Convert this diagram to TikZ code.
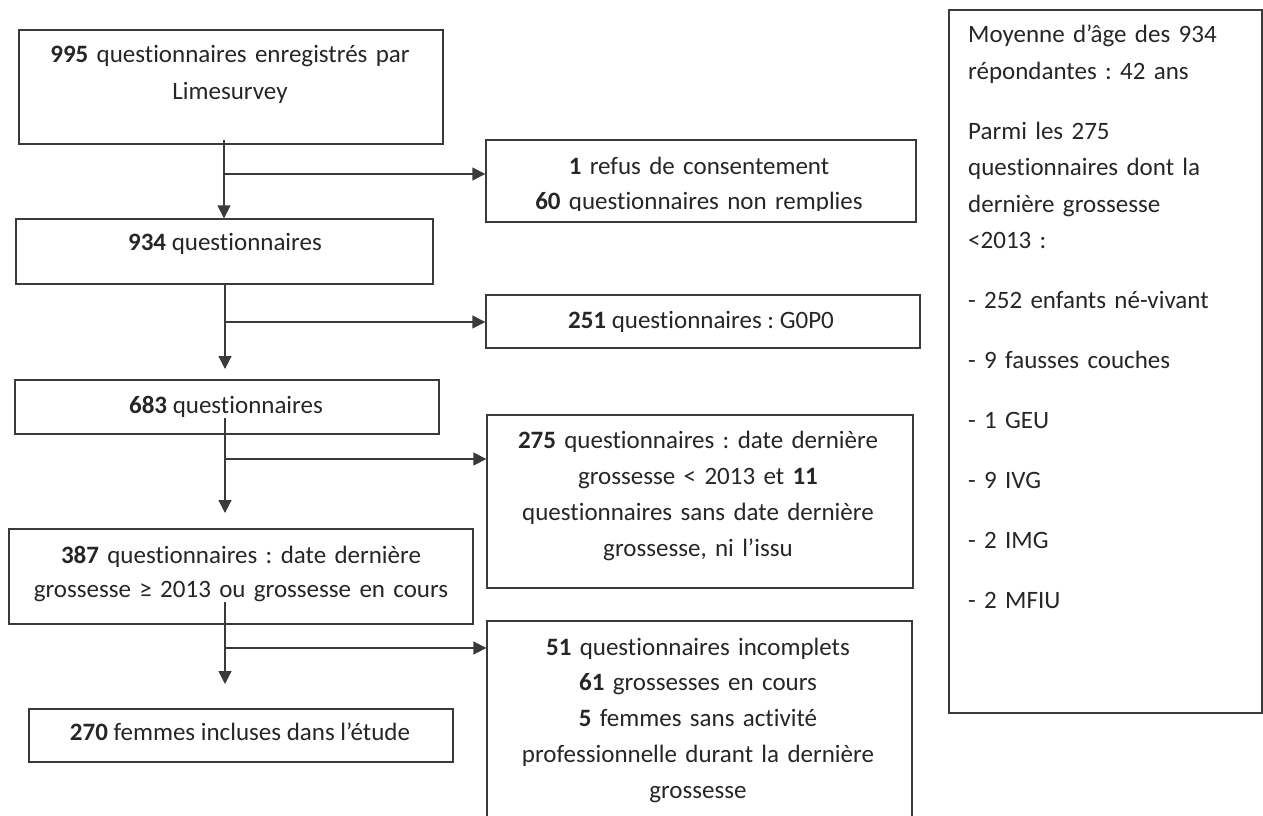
\documentclass[tikz,border=0pt]{standalone}
\usepackage{fontspec}
\setmainfont{Carlito}[Ligatures={NoCommon}]
\usetikzlibrary{arrows.meta}
\definecolor{linec}{HTML}{3A3A3A}
\definecolor{textc}{HTML}{262626}
\frenchspacing
\begin{document}
\begin{tikzpicture}[x=1pt,y=-1pt,
  box/.style={draw=linec, line width=1.3pt, inner sep=0pt},
  txt/.style={font=\fontsize{25}{36.5}\selectfont, text=textc, inner sep=0pt, anchor=base, align=center},
  arr/.style={draw=linec, line width=1.3pt, -{Triangle[length=13pt,width=13pt]}},
  ln/.style={draw=linec, line width=1.3pt}]
\useasboundingbox (0,0) rectangle (1263,816);

% main column boxes
\node[box, minimum width=424pt, minimum height=114pt] (b1) at (231,87) {};
\node[box, minimum width=417pt, minimum height=65pt] (b2) at (224.5,251.5) {};
\node[box, minimum width=424pt, minimum height=54pt] (b3) at (227,407) {};
\node[box, minimum width=464pt, minimum height=95pt] (b4) at (241,576.5) {};
\node[box, minimum width=424pt, minimum height=53pt] (b5) at (241,735.5) {};
% exclusion boxes
\node[box, minimum width=430pt, minimum height=82pt] (e1) at (701,181) {};
\node[box, minimum width=434pt, minimum height=53pt] (e2) at (703,321.5) {};
\node[box, minimum width=426pt, minimum height=173pt] (e3) at (700,501.5) {};
\node[box, minimum width=425pt, minimum height=209pt] (e4) at (699.5,725.5) {};
% side box
\node[box, minimum width=313pt, minimum height=703pt] (r) at (1105.5,361.5) {};

% texts
\node[txt, text width=420pt] (t1) at (230,63) {\textbf{995} questionnaires enregistrés par\\Limesurvey};
\node[txt] (t2) at (225,250) {\textbf{934} questionnaires};
\node[txt] (t3) at (226,413) {\textbf{683} questionnaires};
\node[txt, text width=460pt, font=\fontsize{25}{34.5}\selectfont] (t4) at (241,563) {\textbf{387} questionnaires : date dernière\\grossesse ≥ 2013 ou grossesse en cours};
\node[txt] (t5) at (240,740) {\textbf{270} femmes incluses dans l’étude};
\begin{scope}
  \clip (486,140) rectangle (916,210.5);
  \node[txt, text width=426pt, font=\fontsize{25}{35}\selectfont] (u1) at (699,174) {\textbf{1} refus de consentement\\\textbf{60} questionnaires non remplies};
\end{scope}
\node[txt] (u2) at (701,328) {\textbf{251} questionnaires : G0P0};
\node[txt, text width=422pt, font=\fontsize{25}{36.3}\selectfont] (u3) at (698,448) {\textbf{275} questionnaires : date dernière\\grossesse < 2013 et \textbf{11}\\questionnaires sans date dernière\\grossesse, ni l’issu};
\node[txt, text width=422pt, font=\fontsize{25}{35.8}\selectfont] (u4) at (698,655) {\textbf{51} questionnaires incomplets\\\textbf{61} grossesses en cours\\\textbf{5} femmes sans activité\\professionnelle durant la dernière\\grossesse};
\node[txt, anchor=base west, align=left, text width=292pt, font=\fontsize{25}{36.5}\selectfont] (rt) at (968,43) {Moyenne d’âge des 934\\répondantes : 42 ans\\[23.5pt]Parmi les 275\\questionnaires dont la\\dernière grossesse\\<2013 :\\[23pt]- 252 enfants né-vivant\\[23.5pt]- 9 fausses couches\\[23.5pt]- 1 GEU\\[23.5pt]- 9 IVG\\[23.5pt]- 2 IMG\\[23.5pt]- 2 MFIU};

% connectors
\coordinate (s1) at (224,140);
\coordinate (j1) at (224,174);
\draw[arr] (s1) -- (s1 |- b2.north);
\draw[arr] (j1) -- (j1 -| e1.west);

\coordinate (s2) at (225,284);
\coordinate (j2) at (225,322);
\coordinate (d2) at (225,369);
\draw[arr] (s2) -- (d2);
\draw[arr] (j2) -- (j2 -| e2.west);

\coordinate (s3) at (225,418);
\coordinate (j3) at (225,459);
\coordinate (d3) at (225,513);
\draw[arr] (s3) -- (d3);
\draw[arr] (j3) -- (j3 -| e3.west);

\coordinate (s4) at (225,602);
\coordinate (j4) at (225,648);
\coordinate (d4) at (225,684);
\draw[arr] (s4) -- (d4);
\draw[arr] (j4) -- (j4 -| e4.west);
\end{tikzpicture}
\end{document}
